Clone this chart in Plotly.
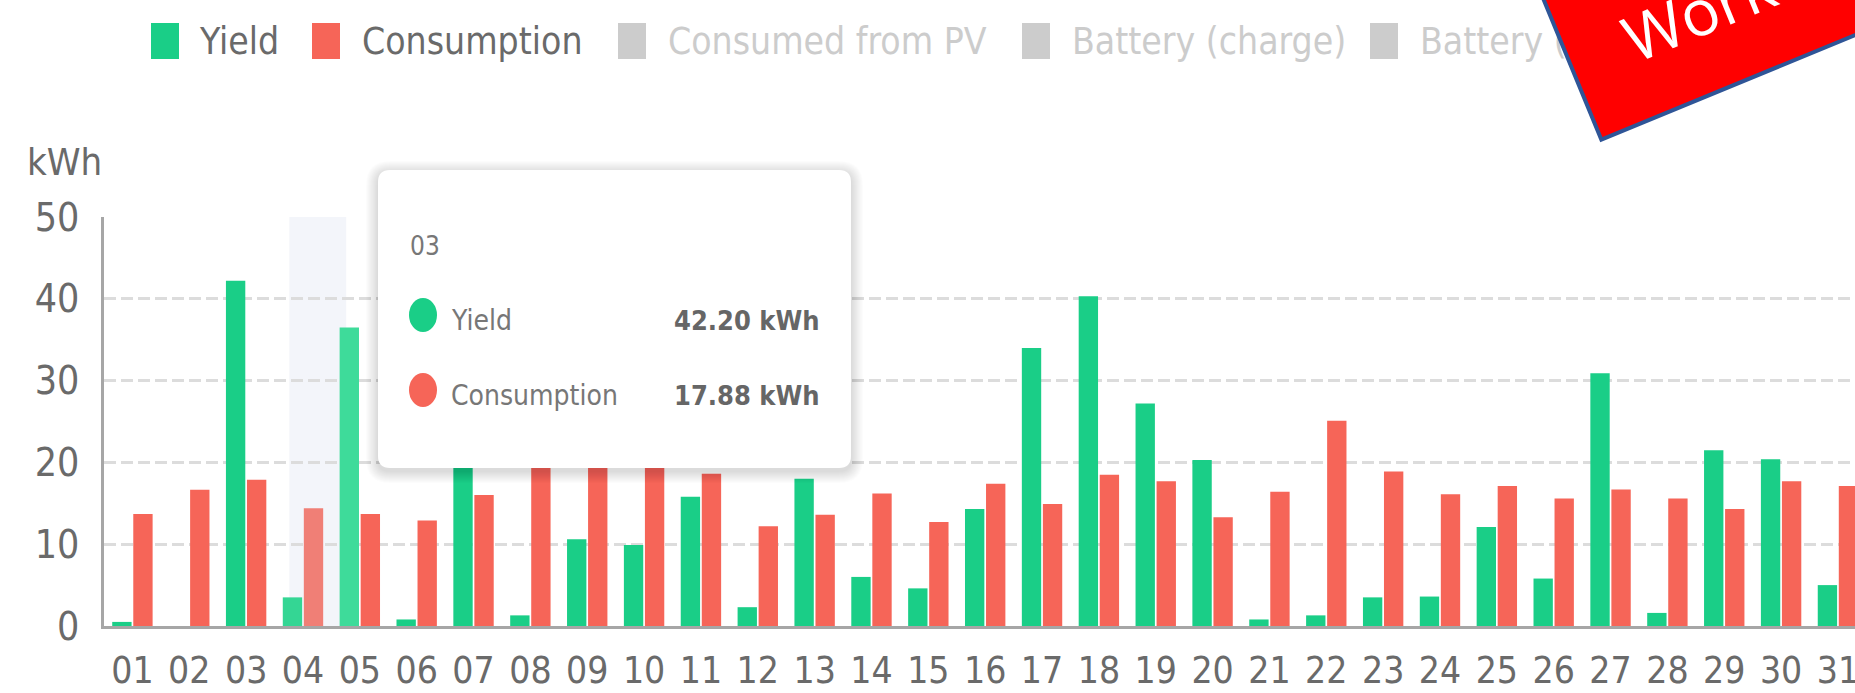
import math
import plotly.graph_objects as go

# ---------------- data ----------------
days = ["01", "02", "03", "04", "05", "06", "07", "08", "09", "10",
        "11", "12", "13", "14", "15", "16", "17", "18", "19", "20",
        "21", "22", "23", "24", "25", "26", "27", "28", "29", "30", "31"]
yield_kwh = [0.5, 0.0, 42.20, 3.5, 36.5, 0.8, 21.0, 1.3, 10.6, 9.9,
             15.8, 2.3, 18.0, 6.0, 4.6, 14.3, 34.0, 40.3, 27.2, 20.3,
             0.8, 1.3, 3.5, 3.6, 12.1, 5.8, 30.9, 1.6, 21.5, 20.4, 5.0]
consumption_kwh = [13.7, 16.65, 17.88, 14.4, 13.7, 12.9, 16.0, 20.3, 21.4, 20.6,
                   18.6, 12.2, 13.6, 16.2, 12.7, 17.4, 14.9, 18.5, 17.7, 13.3,
                   16.4, 25.1, 18.9, 16.1, 17.1, 15.6, 16.7, 15.6, 14.3, 17.7, 17.1]
legend_labels = ["Yield", "Consumption", "Consumed from PV", "Battery (charge)", "Battery (discharge)"]
y_ticks = [0, 10, 20, 30, 40, 50]
unit_label = "kWh"
tooltip_index = 2      # tooltip shows day "03"
highlight_index = 3    # shaded hover band near day "04"
banner_text = "Work"

# ---------------- style ----------------
W, H = 1855, 693
L, R, T, B = 104, 0, 217, 67
PW = W - L - R
PH = H - T - B


def px(x):
    return (x - L) / PW


def py(y):
    return (H - B - y) / PH


GREEN = "#1ace87"
RED = "#f66558"
INACTIVE = "#cccccc"
TXT = "#6a6a6a"
FONT = "DejaVu Sans Condensed, DejaVu Sans, sans-serif"

yield_colors = [GREEN] * len(days)
yield_colors[3] = "#34d694"
yield_colors[4] = "#3edb9a"
cons_colors = [RED] * len(days)
cons_colors[3] = "#f07f76"

fig = go.Figure()
fig.add_trace(go.Bar(x=days, y=yield_kwh, name=legend_labels[0],
                     marker=dict(color=yield_colors, line=dict(width=0)), showlegend=False))
fig.add_trace(go.Bar(x=days, y=consumption_kwh, name=legend_labels[1],
                     marker=dict(color=cons_colors, line=dict(width=0)), showlegend=False))


def rrect(x0, y0, x1, y1, r):
    pts = [("M", x0 + r, y0), ("L", x1 - r, y0), ("Q", x1, y0, x1, y0 + r),
           ("L", x1, y1 - r), ("Q", x1, y1, x1 - r, y1), ("L", x0 + r, y1),
           ("Q", x0, y1, x0, y1 - r), ("L", x0, y0 + r), ("Q", x0, y0, x0 + r, y0)]
    s = ""
    for p in pts:
        coords = p[1:]
        parts = [f"{px(coords[i]):.5f},{py(coords[i + 1]):.5f}" for i in range(0, len(coords), 2)]
        s += p[0] + " " + " ".join(parts) + " "
    return s + "Z"


shapes = []
# hover shadow band
shapes.append(dict(type="rect", xref="x", yref="paper",
                   x0=highlight_index - 0.24, x1=highlight_index + 0.76, y0=0, y1=1,
                   fillcolor="#f3f5fa", line=dict(width=0), layer="below"))

# tooltip shadow + box
tx0, ty0, tx1, ty1 = 378, 170, 851, 468
for k in range(12, 0, -1):
    shapes.append(dict(type="path", xref="paper", yref="paper",
                       path=rrect(tx0 - k, ty0 - k + 3, tx1 + k, ty1 + k + 3, 12 + k),
                       fillcolor="rgba(0,0,0,0.012)", line=dict(width=0), layer="above"))
shapes.append(dict(type="path", xref="paper", yref="paper",
                   path=rrect(tx0, ty0, tx1, ty1, 12),
                   fillcolor="white", line=dict(width=0), layer="above"))
# tooltip markers
for cy, col in [(315, GREEN), (390, RED)]:
    shapes.append(dict(type="circle", xref="paper", yref="paper",
                       x0=px(409), x1=px(437), y0=py(cy - 17), y1=py(cy + 17),
                       fillcolor=col, line=dict(width=0), layer="above"))

# legend squares
leg_sq_left = [151, 312, 618, 1022, 1370]
leg_txt_left = [197, 360, 666, 1070, 1418]
leg_colors = [GREEN, RED, INACTIVE, INACTIVE, INACTIVE]
leg_txt_colors = [TXT, TXT, INACTIVE, INACTIVE, INACTIVE]
for xl, col in zip(leg_sq_left, leg_colors):
    shapes.append(dict(type="rect", xref="paper", yref="paper",
                       x0=px(xl), x1=px(xl + 28), y0=py(59), y1=py(23),
                       fillcolor=col, line=dict(width=0), layer="above"))

annotations = []
for lab, xl, col in zip(legend_labels, leg_txt_left, leg_txt_colors):
    annotations.append(dict(text=lab, x=px(xl), y=py(41), xref="paper", yref="paper",
                            xanchor="left", yanchor="middle", showarrow=False,
                            font=dict(family=FONT, size=37, color=col)))

annotations.append(dict(text=unit_label, x=px(25), y=py(162), xref="paper", yref="paper",
                        xanchor="left", yanchor="middle", showarrow=False,
                        font=dict(family=FONT, size=38, color=TXT)))

# tooltip text
annotations.append(dict(text=days[tooltip_index], x=px(408), y=py(246), xref="paper", yref="paper",
                        xanchor="left", yanchor="middle", showarrow=False,
                        font=dict(family=FONT, size=26, color="#777777")))
for cy, name, val in [(320, legend_labels[0], yield_kwh[tooltip_index]),
                      (395, legend_labels[1], consumption_kwh[tooltip_index])]:
    annotations.append(dict(text=name, x=px(449), y=py(cy), xref="paper", yref="paper",
                            xanchor="left", yanchor="middle", showarrow=False,
                            font=dict(family=FONT, size=28, color="#777777")))
    annotations.append(dict(text=f"<b>{val:.2f} {unit_label}</b>", x=px(822), y=py(cy),
                            xref="paper", yref="paper", xanchor="right", yanchor="middle",
                            showarrow=False, font=dict(family=FONT, size=27, color="#666666")))

# red banner (rotated box) in the top-right corner
ang = 22.4
d = (math.cos(math.radians(ang)), -math.sin(math.radians(ang)))
n = (-math.sin(math.radians(ang)), -math.cos(math.radians(ang)))
cx0, cy0 = 1600, 142
bw, bh = 700, 240
bcx = cx0 + d[0] * bw / 2 + n[0] * bh / 2
bcy = cy0 + d[1] * bw / 2 + n[1] * bh / 2
annotations.append(dict(text=" ", x=px(bcx), y=py(bcy), xref="paper", yref="paper",
                        xanchor="center", yanchor="middle", showarrow=False,
                        width=bw - 8, height=bh - 8, borderpad=0, borderwidth=4,
                        bordercolor="#2f5597", bgcolor="#ff0000", textangle=-ang,
                        font=dict(size=10)))
tw, th = 400, 90
tcx = cx0 + d[0] * (62 + tw / 2) + n[0] * 83
tcy = cy0 + d[1] * (62 + tw / 2) + n[1] * 83
annotations.append(dict(text=banner_text, x=px(tcx), y=py(tcy), xref="paper", yref="paper",
                        xanchor="center", yanchor="middle", showarrow=False,
                        width=tw, height=th, align="left", valign="middle", borderpad=0,
                        textangle=-ang, font=dict(family="Open Sans, sans-serif", size=64, color="white")))

fig.update_layout(
    width=W, height=H,
    margin=dict(l=L, r=R, t=T, b=B, pad=0, autoexpand=False),
    paper_bgcolor="white", plot_bgcolor="white",
    barmode="group", bargap=0.26, bargroupgap=0.08,
    showlegend=False, hovermode=False,
    font=dict(family=FONT, color=TXT),
    xaxis=dict(type="category", range=[-0.5, 30.30], showgrid=False, zeroline=False,
               showline=True, linecolor="#a6a6a6", linewidth=2.5, ticks="",
               tickfont=dict(family=FONT, size=37, color=TXT), ticklabelstandoff=10,
               automargin=False, fixedrange=True),
    yaxis=dict(range=[0, 50], tickvals=y_ticks, showgrid=True, gridcolor="#dcdcdc",
               griddash="12px,5px", gridwidth=2.5, zeroline=False,
               showline=True, linecolor="#a6a6a6", linewidth=2.5, ticks="",
               tickfont=dict(family=FONT, size=39, color=TXT), ticklabelstandoff=14,
               automargin=False, fixedrange=True),
    shapes=shapes,
    annotations=annotations,
)

fig.write_html("out.html", config={"displayModeBar": False},
               post_script=["document.body.style.margin='0';document.body.style.padding='0';"])
